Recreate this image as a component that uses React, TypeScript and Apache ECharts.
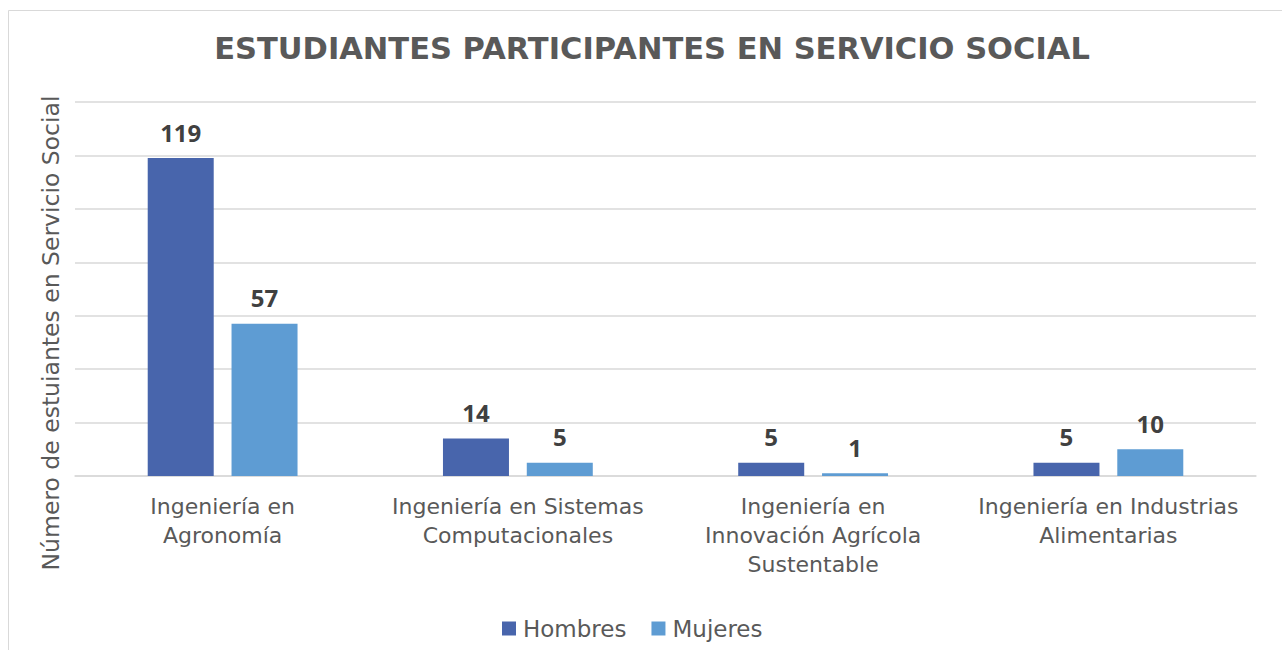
import React, { useEffect, useRef } from "react";
import * as echarts from "echarts";

const categories = [
  "Ingeniería en\nAgronomía",
  "Ingeniería en Sistemas\nComputacionales",
  "Ingeniería en\nInnovación Agrícola\nSustentable",
  "Ingeniería en Industrias\nAlimentarias",
];
const hombres = [119, 14, 5, 5];
const mujeres = [57, 5, 1, 10];
const seriesNames = ["Hombres", "Mujeres"];
const titleText = "ESTUDIANTES PARTICIPANTES EN SERVICIO SOCIAL";
const yAxisName = "Número de estuiantes en Servicio Social";

export default function App() {
  const ref = useRef<HTMLDivElement>(null);
  useEffect(() => {
    if (!ref.current) return;
    const chart = echarts.init(ref.current, null, { renderer: "svg" });
    const labelStyle = {
      show: true,
      position: "top" as const,
      distance: 14,
      fontSize: 24,
      fontWeight: "bold" as const,
      color: "#404040",
      fontFamily: "Open Sans",
    };
    chart.setOption({
      animation: false,
      backgroundColor: "#ffffff",
      title: {
        text: titleText,
        left: 647,
        textAlign: "center",
        top: 28,
        textStyle: {
          fontFamily: "DejaVu Sans",
          fontWeight: "bold",
          fontSize: 30.5,
          color: "#595959",
        },
      },
      graphic: [
        {
          type: "line",
          shape: { x1: 8.5, y1: 10.5, x2: 1282, y2: 10.5 },
          style: { stroke: "#d9d9d9", lineWidth: 1 },
        },
        {
          type: "line",
          shape: { x1: 8.5, y1: 10.5, x2: 8.5, y2: 650 },
          style: { stroke: "#d9d9d9", lineWidth: 1 },
        },
        {
          type: "text",
          x: 51,
          y: 333,
          rotation: Math.PI / 2,
          style: {
            text: yAxisName,
            fontFamily: "DejaVu Sans",
            fontSize: 23.5,
            fill: "#595959",
            align: "center",
            verticalAlign: "middle",
          },
        },
      ],
      legend: {
        bottom: 5,
        left: 497,
        itemWidth: 14,
        itemHeight: 14,
        itemGap: 25,
        icon: "rect",
        textStyle: { fontFamily: "DejaVu Sans", fontSize: 23, color: "#595959", padding: [0, 0, 0, 2] },
        data: seriesNames,
      },
      grid: { left: 75, right: 26, top: 102, bottom: 174 },
      xAxis: {
        type: "category",
        data: categories,
        axisLine: { lineStyle: { color: "#d9d9d9", width: 1.5 } },
        axisTick: { show: false },
        axisLabel: {
          fontFamily: "DejaVu Sans",
          fontSize: 22,
          color: "#595959",
          lineHeight: 29,
          margin: 16,
          interval: 0,
        },
      },
      yAxis: {
        type: "value",
        min: 0,
        max: 140,
        interval: 20,
        axisLabel: { show: false },
        axisLine: { show: false },
        axisTick: { show: false },
        splitLine: { lineStyle: { color: "#d9d9d9", width: 1.5 } },
      },
      series: [
        {
          name: seriesNames[0],
          type: "bar",
          data: hombres,
          barWidth: 66,
          barGap: "27%",
          itemStyle: { color: "#4865ac" },
          label: labelStyle,
        },
        {
          name: seriesNames[1],
          type: "bar",
          data: mujeres,
          barWidth: 66,
          barGap: "27%",
          itemStyle: { color: "#5e9cd3" },
          label: labelStyle,
        },
      ],
    });
    return () => chart.dispose();
  }, []);
  return (
    <div
      ref={ref}
      style={{ position: "absolute", left: 0, top: 0, width: 1282, height: 650 }}
    />
  );
}
